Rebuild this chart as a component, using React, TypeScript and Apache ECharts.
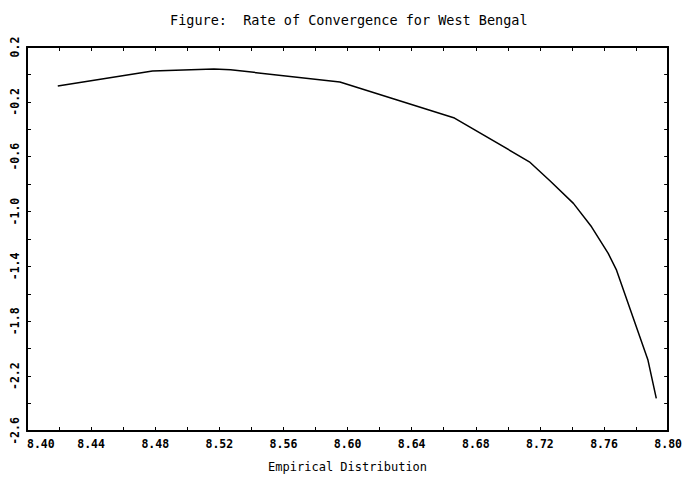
import React, { useEffect, useRef } from "react";
import * as echarts from "echarts";

const titleText = "Figure:  Rate of Convergence for West Bengal";
const xAxisName = "Empirical Distribution";
const xValues = [8.4192, 8.4783, 8.5166, 8.527, 8.5952, 8.6667, 8.7134, 8.7264, 8.7409, 8.7522, 8.7626, 8.7678, 8.7874, 8.7926];
const yValues = [-0.085, 0.025, 0.04, 0.034, -0.055, -0.318, -0.637, -0.777, -0.94, -1.111, -1.305, -1.427, -2.083, -2.362];
const xMin = 8.4;
const xMax = 8.8;
const yMin = -2.6;
const yMax = 0.2;

const FONT = "DejaVu Sans Mono";

export default function App() {
  const ref = useRef<HTMLDivElement>(null);
  useEffect(() => {
    if (!ref.current) return;
    const chart = echarts.init(ref.current, undefined, { renderer: "svg" });
    const axisLineStyle = { color: "#000", width: 2 };
    const tickStyle = { color: "#000", width: 1 };
    chart.setOption({
      animation: false,
      backgroundColor: "#fff",
      title: {
        text: titleText,
        left: 165,
        top: 8,
        textStyle: { fontFamily: FONT, fontSize: 13.5, fontWeight: "normal", color: "#000" },
      },
      grid: { left: 27, right: 13, top: 47, bottom: 51, containLabel: false },
      xAxis: [
        {
          type: "value",
          min: xMin,
          max: xMax,
          interval: 0.02,
          position: "bottom",
          name: xAxisName,
          nameLocation: "middle",
          nameGap: 30,
          nameTextStyle: { fontFamily: FONT, fontSize: 12, color: "#000" },
          axisLine: { show: true, onZero: false, lineStyle: axisLineStyle },
          axisTick: { show: true, inside: true, length: 4, lineStyle: tickStyle },
          splitLine: { show: false },
          axisLabel: {
            fontFamily: FONT,
            fontSize: 11.5,
            fontWeight: "bold",
            color: "#000",
            margin: 7,
            alignMinLabel: "left",
            formatter: (v: number, i: number) => (i % 2 === 0 ? v.toFixed(2) : ""),
          },
        },
        {
          type: "value",
          min: xMin,
          max: xMax,
          interval: 0.02,
          position: "top",
          axisLine: { show: true, onZero: false, lineStyle: axisLineStyle },
          axisTick: { show: true, inside: true, length: 4, lineStyle: tickStyle },
          splitLine: { show: false },
          axisLabel: { show: false },
        },
      ],
      yAxis: [
        {
          type: "value",
          min: yMin,
          max: yMax,
          interval: 0.2,
          position: "left",
          axisLine: { show: true, onZero: false, lineStyle: axisLineStyle },
          axisTick: { show: true, inside: true, length: 4, lineStyle: tickStyle },
          splitLine: { show: false },
          axisLabel: {
            fontFamily: FONT,
            fontSize: 11.5,
            fontWeight: "bold",
            color: "#000",
            rotate: 90,
            margin: 6,
            formatter: (v: number, i: number) => (i % 2 === 0 ? v.toFixed(1) : ""),
          },
        },
        {
          type: "value",
          min: yMin,
          max: yMax,
          interval: 0.2,
          position: "right",
          axisLine: { show: true, onZero: false, lineStyle: axisLineStyle },
          axisTick: { show: true, inside: true, length: 4, lineStyle: tickStyle },
          splitLine: { show: false },
          axisLabel: { show: false },
        },
      ],
      series: [
        {
          type: "line",
          xAxisIndex: 0,
          yAxisIndex: 0,
          data: xValues.map((x, i) => [x, yValues[i]]),
          showSymbol: false,
          symbol: "none",
          lineStyle: { color: "#000", width: 1.5 },
        },
      ],
    });
    return () => chart.dispose();
  }, []);
  return (
    <div
      ref={ref}
      style={{ position: "absolute", left: 0, top: 0, width: 685, height: 482 }}
    />
  );
}
